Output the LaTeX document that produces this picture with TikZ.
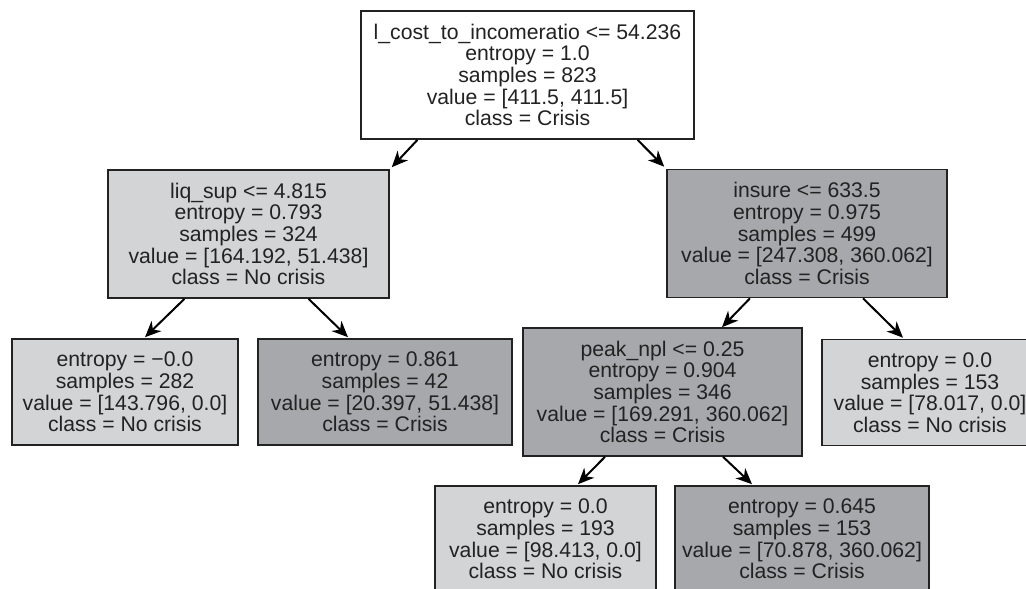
\documentclass[tikz,border=0pt]{standalone}
\usepackage{fontspec}
\setmainfont{Liberation Sans}
\usepackage{tikz}
\usetikzlibrary{arrows.meta,calc}
\definecolor{SplitLight}{HTML}{D3D4D6}
\definecolor{SplitDark}{HTML}{A7A8AB}
\definecolor{InkGray}{HTML}{222222}

\tikzset{
  treebox/.style={draw=InkGray,line width=1.6pt,align=center,inner sep=0pt,
    text=InkGray},
  splitbox/.style={treebox,minimum height=128},
  leafbox/.style={treebox,minimum height=106},
  treearrow/.style={->,line width=2pt,draw=black}
}

\begin{document}
\begin{tikzpicture}[x=1pt,y=-1pt,font=\fontsize{21.2}{21.6}\selectfont,
    >={Stealth[length=16pt,width=14pt,inset=5pt]}]
    \useasboundingbox (0,0) rectangle (1026,589);
    \clip (0,0) rectangle (1026,589);

    % Root split.
    \node[splitbox,fill=white,minimum width=333] (root) at (527.5,75)
      {l\_cost\_to\_incomeratio <= 54.236\\entropy = 1.0\\samples = 823\\
       value = [411.5, 411.5]\\class = Crisis};

    % Second level.
    \node[splitbox,fill=SplitLight,minimum width=281] (liqsup) at (248.5,234)
      {liq\_sup <= 4.815\\entropy = 0.793\\samples = 324\\
       value = [164.192, 51.438]\\class = No crisis};
    \node[splitbox,fill=SplitDark,minimum width=280] (insure) at (807,233.5)
      {insure <= 633.5\\entropy = 0.975\\samples = 499\\
       value = [247.308, 360.062]\\class = Crisis};

    % Third level.
    \node[leafbox,fill=SplitLight,minimum width=226] (leafa) at (125,392)
      {entropy = −0.0\\samples = 282\\value = [143.796, 0.0]\\class = No crisis};
    \node[leafbox,fill=SplitDark,minimum width=254] (leafb) at (385,392)
      {entropy = 0.861\\samples = 42\\value = [20.397, 51.438]\\class = Crisis};
    \node[splitbox,fill=SplitDark,minimum width=279] (peaknpl) at (662.5,392)
      {peak\_npl <= 0.25\\entropy = 0.904\\samples = 346\\
       value = [169.291, 360.062]\\class = Crisis};
    \node[leafbox,fill=SplitLight,minimum width=216] (leafc) at (930,392.5)
      {entropy = 0.0\\samples = 153\\value = [78.017, 0.0]\\class = No crisis};

    % Bottom level, cut by the frame.
    \node[leafbox,fill=SplitLight,minimum width=221] (leafd) at (545.5,539)
      {entropy = 0.0\\samples = 193\\value = [98.413, 0.0]\\class = No crisis};
    \node[leafbox,fill=SplitDark,minimum width=254] (leafe) at (802,539)
      {entropy = 0.645\\samples = 153\\value = [70.878, 360.062]\\class = Crisis};

    % Arrows.
    \draw[treearrow] ($(root.south)+(-110,0)$) -- ($(liqsup.north east)+(2,-2)$);
    \draw[treearrow] ($(root.south)+(110,0)$) -- ($(insure.north west)+(-2,-2)$);
    \draw[treearrow] ($(liqsup.south)+(-64,0)$) -- ($(leafa.north)+(20,-1)$);
    \draw[treearrow] ($(liqsup.south)+(60,0)$) -- ($(leafb.north)+(-37,-1)$);
    \draw[treearrow] ($(insure.south)+(-57,0)$) -- ($(peaknpl.north)+(59.5,0)$);
    \draw[treearrow] ($(insure.south)+(56,0)$) -- ($(leafc.north)+(-27,-1)$);
    \draw[treearrow] ($(peaknpl.south)+(-57.5,0)$) -- ($(leafd.north)+(32.5,-1)$);
    \draw[treearrow] ($(peaknpl.south)+(60.5,0)$) -- ($(leafe.north)+(-50,-1)$);
  \end{tikzpicture}
\end{document}
